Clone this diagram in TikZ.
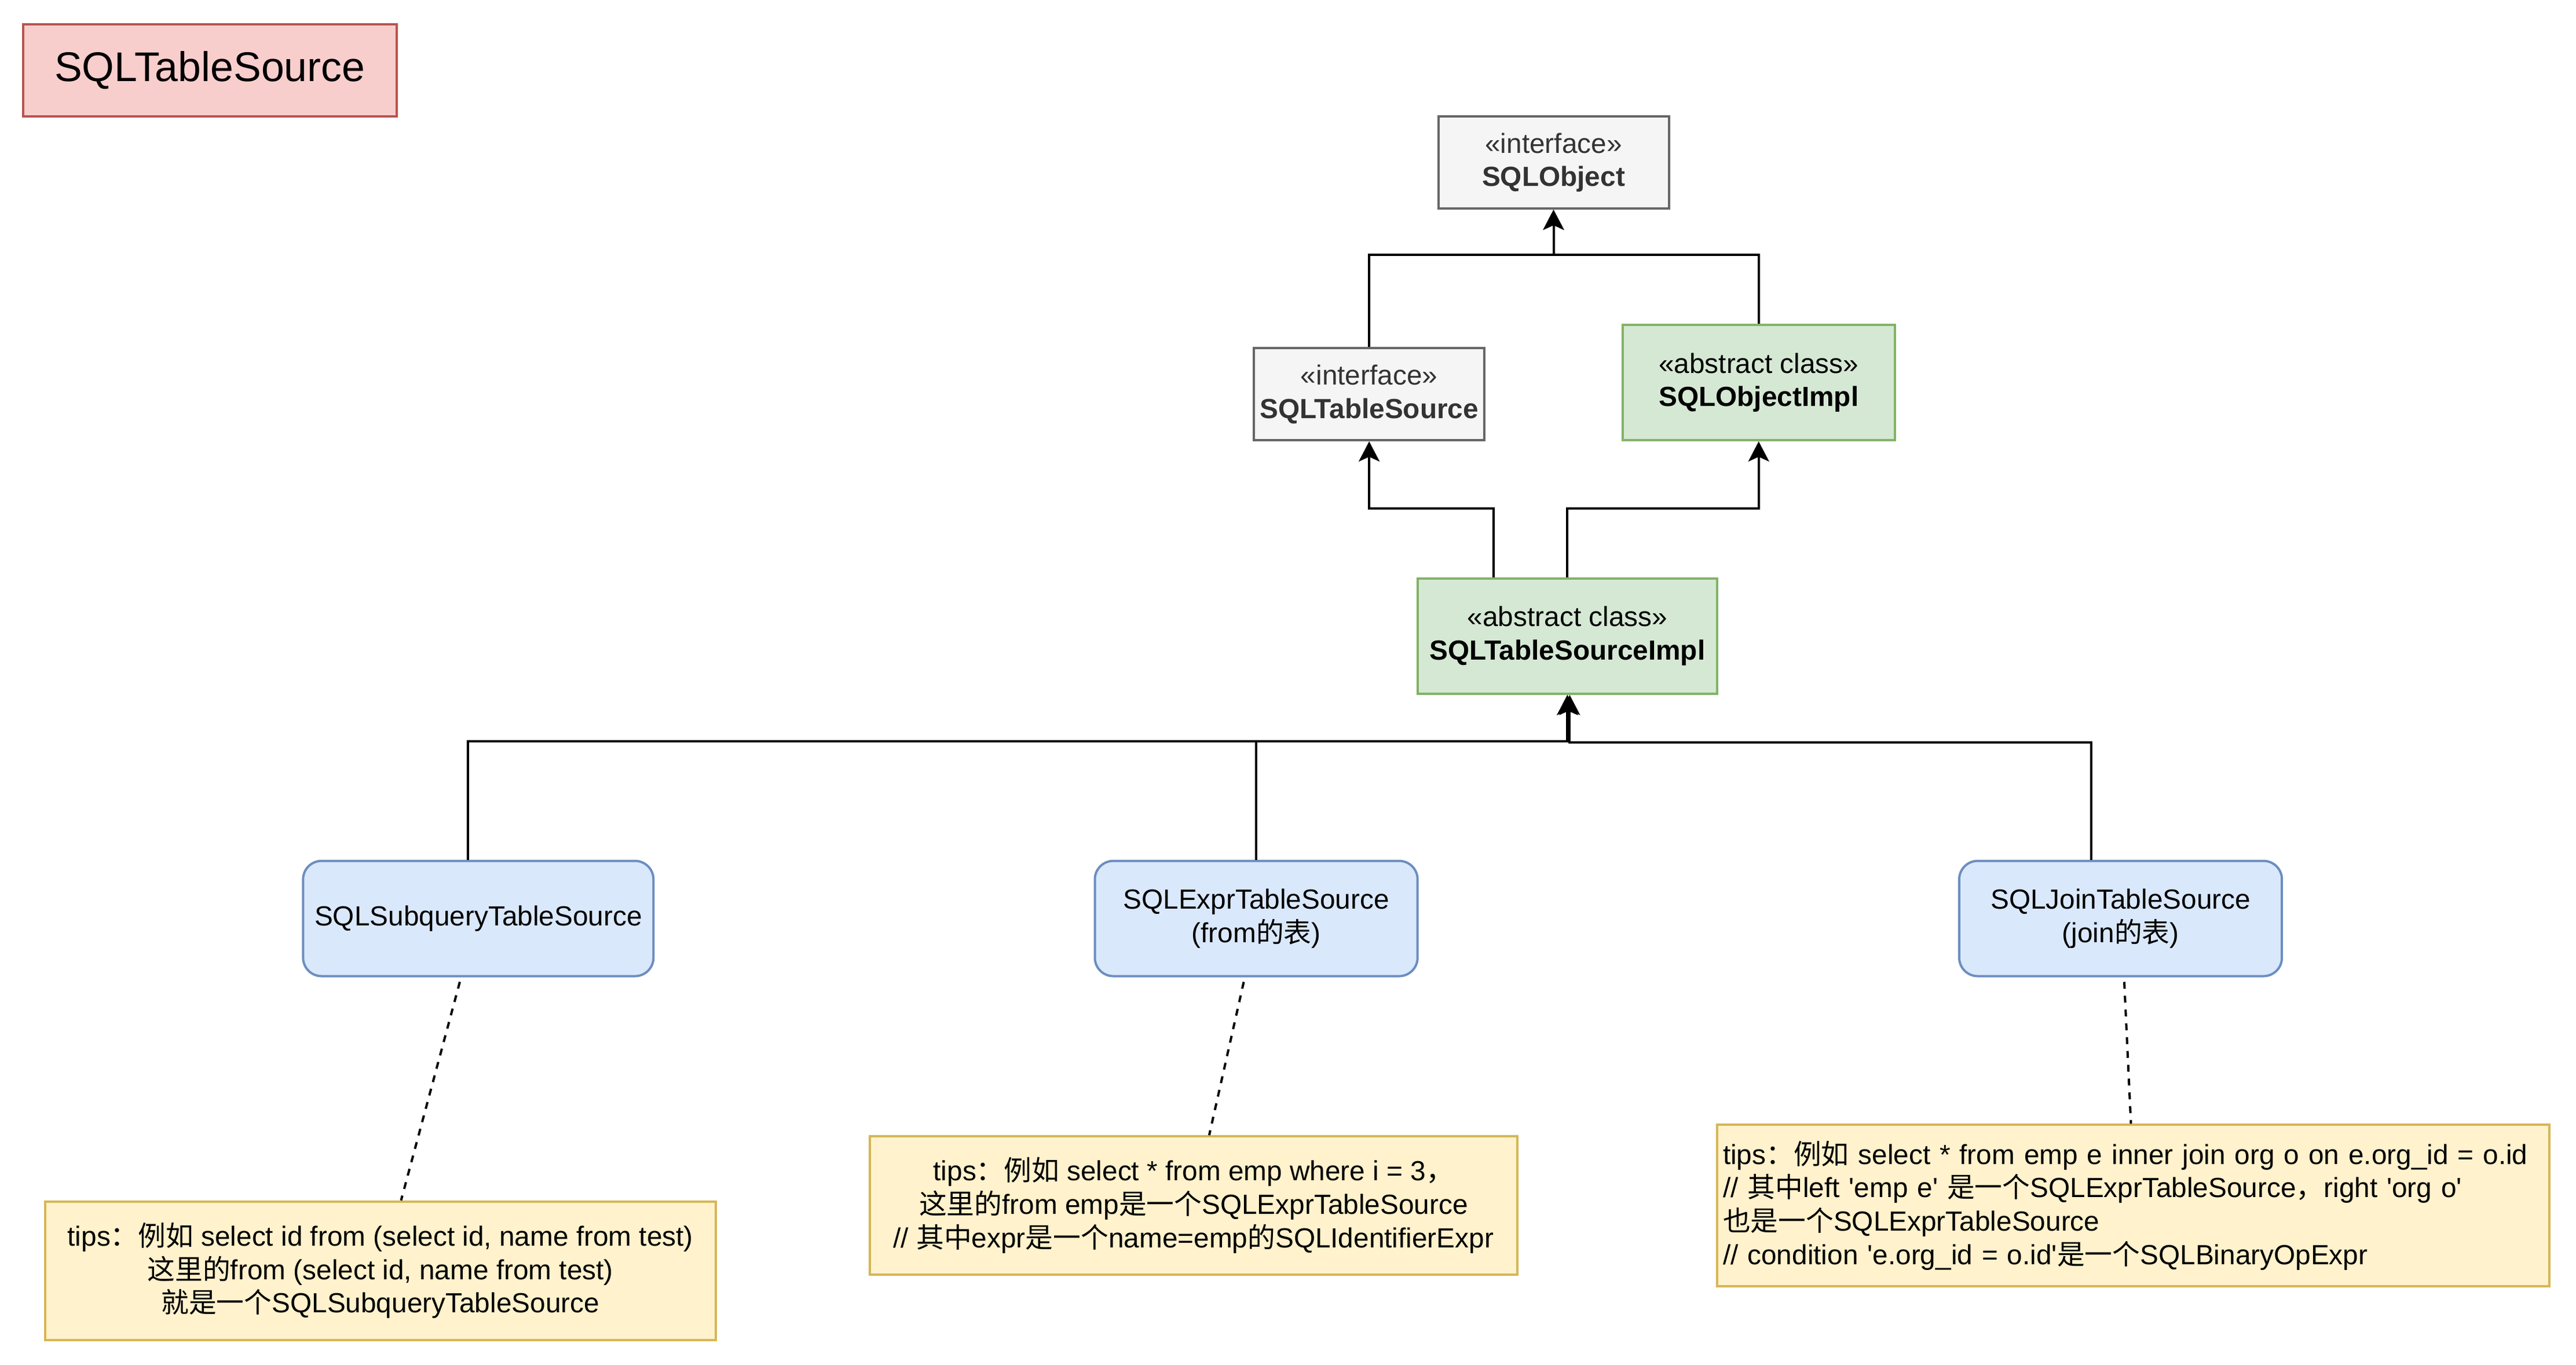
\documentclass[tikz,border=0pt]{standalone}
\usepackage{fontspec}
\setmainfont{Liberation Sans}[Ligatures=TeXOff]
\newfontfamily\cjk{Noto Sans CJK SC}
\usetikzlibrary{arrows.meta}
\definecolor{redfill}{HTML}{F8CECC}
\definecolor{redline}{HTML}{B85450}
\definecolor{greyfill}{HTML}{F5F5F5}
\definecolor{greyline}{HTML}{666666}
\definecolor{greytext}{HTML}{333333}
\definecolor{greenfill}{HTML}{D5E8D4}
\definecolor{greenline}{HTML}{82B366}
\definecolor{bluefill}{HTML}{DAE8FC}
\definecolor{blueline}{HTML}{6C8EBF}
\definecolor{notefill}{HTML}{FFF2CC}
\definecolor{noteline}{HTML}{D6B656}
\begin{document}
\begin{tikzpicture}[x=1pt,y=-1pt]
\tikzset{box/.style = {shape=rectangle,draw,line width=1pt,align=center,inner sep=2pt,font=\fontsize{12pt}{14.5pt}\selectfont}}
\tikzset{iface/.style = {box,fill=greyfill,draw=greyline,text=greytext,minimum width=100pt,minimum height=40pt}}
\tikzset{abstract/.style = {box,fill=greenfill,draw=greenline,minimum height=50pt}}
\tikzset{impl/.style = {box,fill=bluefill,draw=blueline,rounded corners=8pt,minimum width=140pt,minimum height=50pt}}
\tikzset{note/.style = {box,fill=notefill,draw=noteline,minimum height=60pt}}
\tikzset{inherit/.style = {line width=1pt,-{Stealth[length=8.7pt,width=9pt,inset=2pt]}}}
\tikzset{link/.style = {line width=1pt,dash pattern=on 3pt off 3pt}}
\useasboundingbox (0,0) rectangle (1117.6,592);
% title
\node[box,fill=redfill,draw=redline,minimum width=162pt,minimum height=40pt,font=\fontsize{18pt}{21pt}\selectfont] (title) at (91,30.5) {SQLTableSource};
% top of the hierarchy
\node[iface] (obj) at (674,70.5) {«interface»\\\textbf{SQLObject}};
\node[iface] (tsrc) at (594,171) {«interface»\\\textbf{SQLTableSource}};
\node[abstract,minimum width=118pt] (oimpl) at (763,166) {«abstract class»\\\textbf{SQLObjectImpl}};
\node[abstract,minimum width=130pt] (timpl) at (680,276) {«abstract class»\\\textbf{SQLTableSourceImpl}};
% table sources
\node[impl,minimum width=152pt] (sub) at (207.5,398.5) {SQLSubqueryTableSource};
\node[impl] (expr) at (545,398.5) {SQLExprTableSource\\({from\cjk 的表})};
\node[impl] (join) at (920,398.5) {SQLJoinTableSource\\({join\cjk 的表})};
% tips
\node[note,minimum width=291pt] (n1) at (165,551.3) {tips{\cjk ：例如} select id from (select id, name from test)\\{\cjk 这里的}from (select id, name from test)\\{\cjk 就是一个}SQLSubqueryTableSource};
\node[note,minimum width=281pt] (n2) at (517.8,523) {tips{\cjk ：例如} select * from emp where i = 3{\cjk ，}\\{\cjk 这里的}from emp{\cjk 是一个}SQLExprTableSource\\// {\cjk 其中}expr{\cjk 是一个}name=emp{\cjk 的}SQLIdentifierExpr};
\node[note,minimum width=361pt,minimum height=70pt,text width=356pt,align=left] (n3) at (925.5,523) {tips{\cjk ：例如} select * from emp e inner join org o on e.org\_id = o.id\\// {\cjk 其中}left 'emp e' {\cjk 是一个}SQLExprTableSource{\cjk ，}right 'org o'\\{\cjk 也是一个}SQLExprTableSource\\// condition 'e.org\_id = o.id'{\cjk 是一个}SQLBinaryOpExpr};
% inheritance
\draw[inherit] (tsrc.north) -- ++(0,-40) -| (obj.south);
\draw[inherit] (oimpl.north) -- ++(0,-30) -| (obj.south);
\draw[inherit] ([xshift=-32pt]timpl.north) -- ++(0,-30) -| (tsrc.south);
\draw[inherit] (timpl.north) -- ++(0,-30) -| (oimpl.south);
\draw[inherit] ([xshift=-4.5pt]sub.north) -- ++(0,-51.5) -| (timpl.south);
\draw[inherit] (expr.north) -- ++(0,-51.5) -| (timpl.south);
\draw[inherit] ([xshift=-12.6pt]join.north) -- ++(0,-51) -| ([xshift=1pt]timpl.south);
% tips links
\draw[link] ([xshift=-8pt,yshift=-2pt]sub.south) to ([xshift=9pt]n1.north);
\draw[link] ([xshift=-5.4pt,yshift=-2pt]expr.south) to ([xshift=6.8pt]n2.north);
\draw[link] ([xshift=1.6pt,yshift=-2pt]join.south) to ([xshift=-1pt]n3.north);
\end{tikzpicture}
\end{document}
